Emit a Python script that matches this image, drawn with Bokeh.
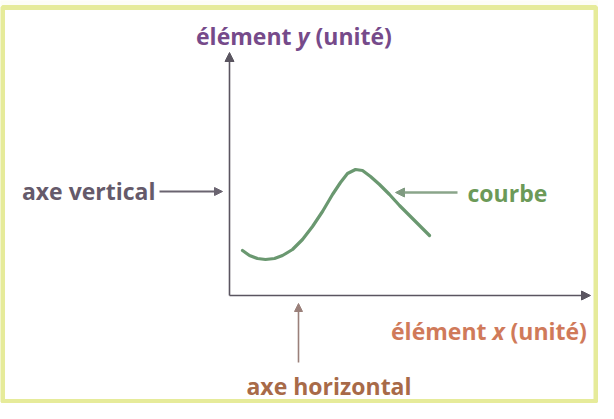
from bokeh.plotting import figure
from bokeh.models import Range1d, Arrow, NormalHead
from bokeh.core.properties import value
from bokeh.embed import file_html
from bokeh.resources import INLINE

# ---- data (schematic curve, arbitrary units) ----
curve_x = [1.3, 2.0, 2.8, 3.6, 4.5, 5.3, 6.3, 7.3, 8.3, 9.3, 10.3, 11.1, 11.8, 12.6, 13.3, 14.1, 15.0, 16.0, 17.0, 18.0, 19.0, 20.0]
curve_y = [4.5, 4.0, 3.7, 3.6, 3.7, 4.0, 4.6, 5.6, 6.9, 8.4, 10.1, 11.3, 12.2, 12.6, 12.5, 11.9, 11.1, 10.1, 9.0, 8.0, 7.0, 6.0]

y_title = ["élément", "y", "(unité)"]
x_title = ["élément", "x", "(unité)"]
label_vertical = "axe vertical"
label_horizontal = "axe horizontal"
label_curve = "courbe"

# axis extents (units)
x_axis_end = 36.1
y_axis_end = 24.3

FONT = value("Open Sans")
FS = "23px"

p = figure(width=598, height=403, output_backend="svg", toolbar_location=None,
           x_range=Range1d(-22.9, 36.9), y_range=Range1d(-10.8, 29.5),
           min_border=0, background_fill_color="#fdfdf6", border_fill_color="#fdfdf6")
p.axis.visible = False
p.grid.visible = False
p.outline_line_color = None

# frame
p.quad(left=[-22.7], right=[36.65], top=[28.8], bottom=[-10.6],
       fill_color="white", line_color="#e6eb9a", line_width=5)

# axes with arrowheads
axis_col = "#5a5560"
p.add_layout(Arrow(x_start=0, y_start=0, x_end=0, y_end=y_axis_end,
                   line_color=axis_col, line_width=1.6,
                   end=NormalHead(size=9, fill_color=axis_col, line_color=axis_col)))
p.add_layout(Arrow(x_start=0, y_start=0, x_end=x_axis_end, y_end=0,
                   line_color=axis_col, line_width=1.6,
                   end=NormalHead(size=9, fill_color=axis_col, line_color=axis_col)))

# curve
p.line(curve_x, curve_y, line_color="#6a9870", line_width=3.2, line_join="round", line_cap="round")

# pointer arrows
p.add_layout(Arrow(x_start=-7.0, y_start=10.4, x_end=-0.7, y_end=10.4,
                   line_color="#6a6470", line_width=2,
                   end=NormalHead(size=8, fill_color="#6a6470", line_color="#6a6470")))
p.add_layout(Arrow(x_start=22.8, y_start=10.3, x_end=16.6, y_end=10.3,
                   line_color="#8aa58a", line_width=2.5,
                   end=NormalHead(size=9, fill_color="#7f9a80", line_color="#7f9a80")))
p.add_layout(Arrow(x_start=6.9, y_start=-6.7, x_end=6.9, y_end=-0.8,
                   line_color="#9a807a", line_width=1.6,
                   end=NormalHead(size=8, fill_color="#9a807a", line_color="#9a807a")))

# labels
def txt(x, y, s, color, align, style="bold"):
    p.text(x=[x], y=[y], text=[s], text_color=color, text_font=FONT,
           text_font_size=FS, text_font_style=style, text_align=align,
           text_baseline="middle")

def title3(parts, xc, y, color):
    txt(xc - 1.2, y, parts[0], color, "right")
    txt(xc, y, parts[1], color, "center", "bold italic")
    txt(xc + 1.2, y, parts[2], color, "left")

title3(y_title, 7.4, 26.0, "#764a8a")
title3(x_title, 26.9, -3.5, "#d07a5a")
txt(-7.4, 10.5, label_vertical, "#655a6a", "right")
txt(23.8, 10.3, label_curve, "#6c9a58", "left")
txt(9.95, -9.0, label_horizontal, "#a86a48", "center")

open("out.html", "w").write(file_html(p, INLINE))
